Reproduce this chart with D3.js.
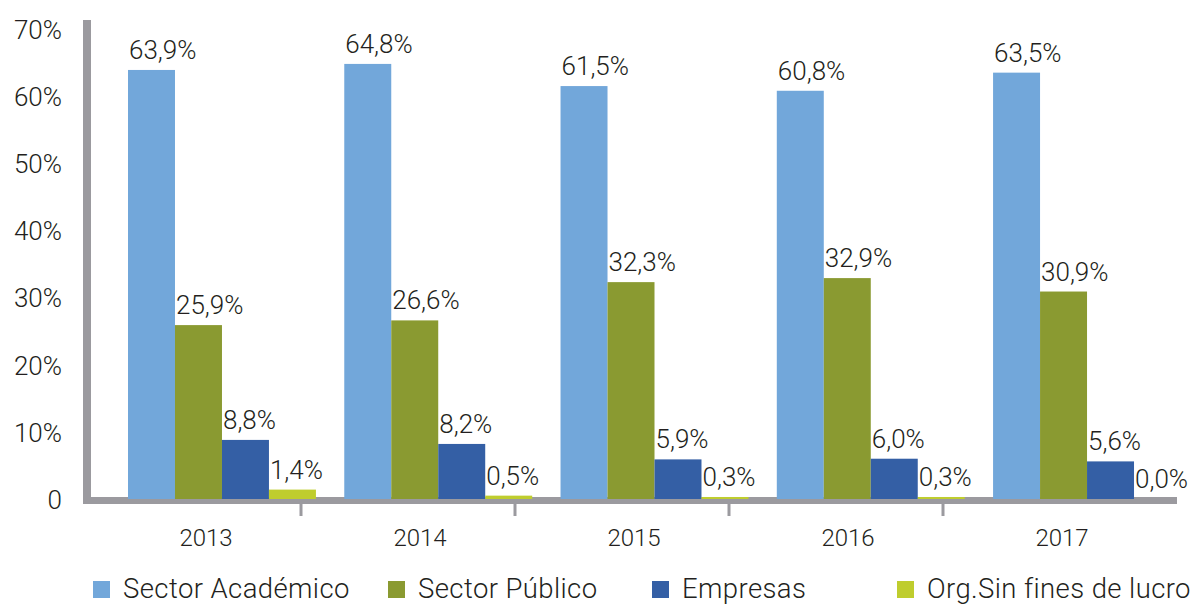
<!DOCTYPE html>
<html>
<head>
<meta charset="utf-8">
<script src="https://cdn.jsdelivr.net/npm/d3@7"></script>
<style>
  body { margin: 0; background: #fff; }
  text { font-family: Roboto, "Noto Sans", sans-serif; fill: #231f20; }
</style>
</head>
<body>
<div id="app"></div>
<script>
var years = ['2013', '2014', '2015', '2016', '2017'];
var series = ['Sector Académico', 'Sector Público', 'Empresas', 'Org.Sin fines de lucro'];
var colors = ['#72a7da', '#8a9a31', '#345fa5', '#bfcd2e'];
var academico = [63.9, 64.8, 61.5, 60.8, 63.5];
var publico = [25.9, 26.6, 32.3, 32.9, 30.9];
var empresas = [8.8, 8.2, 5.9, 6.0, 5.6];
var sinFines = [1.4, 0.5, 0.3, 0.3, 0.0];
var yTicks = [0, 10, 20, 30, 40, 50, 60, 70];

var values = [academico, publico, empresas, sinFines];

var width = 1202, height = 605;
var gray = '#9b9a9f';

var svg = d3.select('#app')
    .append('svg')
    .attr('width', width)
    .attr('height', height);

var y = d3.scaleLinear()
    .domain([0, 70])
    .range([499, 29]);

// category axis (ticks + year labels)
var x = d3.scaleBand()
    .domain(years)
    .range([87, 1157]);

// bar groups
var x0 = d3.scaleBand()
    .domain(years)
    .range([128, 1181])
    .paddingInner(0.131);

var x1 = d3.scaleBand()
    .domain(d3.range(series.length))
    .range([0, x0.bandwidth()]);

// y axis labels
svg.selectAll('.ylab')
    .data(yTicks)
    .enter()
    .append('text')
    .attr('class', 'ylab')
    .attr('x', 62)
    .attr('y', function (d) { return y(d) + 3; })
    .attr('text-anchor', 'end')
    .attr('dominant-baseline', 'middle')
    .style('font-size', '26px')
    .style('font-weight', 300)
    .text(function (d) { return d === 0 ? '0' : d + '%'; });

// vertical axis line
svg.append('rect')
    .attr('x', 83)
    .attr('y', 20)
    .attr('width', 8)
    .attr('height', 484)
    .attr('fill', gray);

// baseline
svg.append('rect')
    .attr('x', 83)
    .attr('y', 497)
    .attr('width', 1094)
    .attr('height', 7)
    .attr('fill', gray);

// bars (drawn over the baseline, like the original)
var groups = svg.selectAll('.grp')
    .data(years)
    .enter()
    .append('g')
    .attr('class', 'grp')
    .attr('transform', function (d) { return 'translate(' + x0(d) + ',0)'; });

groups.each(function (yr, i) {
    var g = d3.select(this);
    values.forEach(function (vals, s) {
        var v = vals[i];
        if (v > 0) {
            g.append('rect')
                .attr('x', x1(s))
                .attr('y', y(v))
                .attr('width', x1.bandwidth())
                .attr('height', y(0) - y(v))
                .attr('fill', colors[s]);
        }
        g.append('text')
            .attr('x', x1(s) + 1)
            .attr('y', y(v) - 11)
            .style('font-size', '26px')
            .style('font-weight', 300)
            .text(d3.format('.1f')(v).replace('.', ',') + '%');
    });
});

// category ticks between bands
svg.selectAll('.xtick')
    .data(years.slice(1))
    .enter()
    .append('rect')
    .attr('class', 'xtick')
    .attr('x', function (d) { return x(d) - 1.5; })
    .attr('y', 504)
    .attr('width', 3)
    .attr('height', 12)
    .attr('fill', gray);

svg.selectAll('.xlab')
    .data(years)
    .enter()
    .append('text')
    .attr('class', 'xlab')
    .attr('x', function (d) { return x(d) + x.bandwidth() / 2 + 12; })
    .attr('y', 546)
    .attr('text-anchor', 'middle')
    .style('font-size', '24px')
    .style('font-weight', 300)
    .text(function (d) { return d; });

// legend
var legendX = [93, 388, 652, 897];
var legend = svg.selectAll('.leg')
    .data(series)
    .enter()
    .append('g')
    .attr('class', 'leg')
    .attr('transform', function (d, i) { return 'translate(' + legendX[i] + ',581)'; });

legend.append('rect')
    .attr('width', 17)
    .attr('height', 17)
    .attr('fill', function (d, i) { return colors[i]; });

legend.append('text')
    .attr('x', 30)
    .attr('y', 17)
    .style('font-size', '27.5px')
    .style('font-weight', 300)
    .style('letter-spacing', '0.4px')
    .text(function (d) { return d; });
</script>
</body>
</html>
